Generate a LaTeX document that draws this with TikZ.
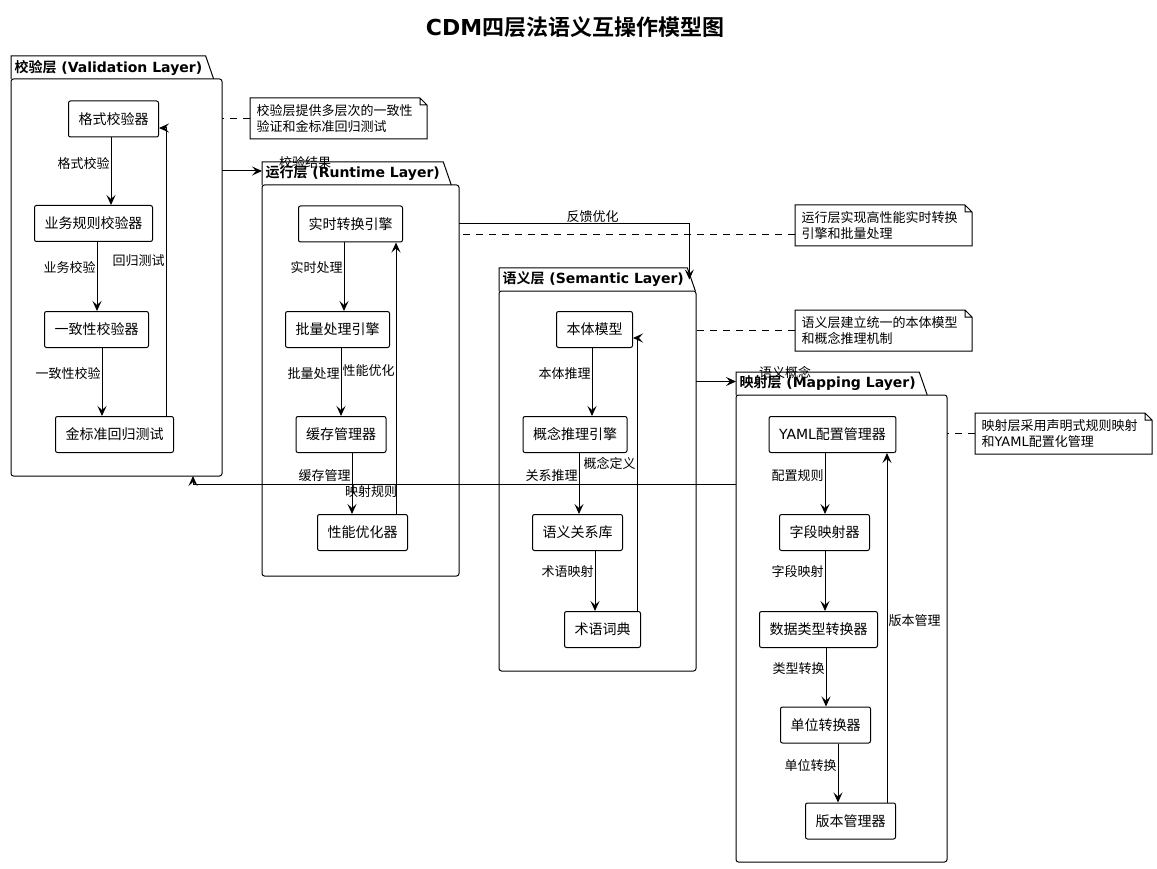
\documentclass[tikz,border=0pt]{standalone}
\usepackage{fontspec}
\setmainfont{DejaVu Sans}
\newfontfamily\cjkfont{Noto Sans CJK SC}[BoldFont={Noto Sans CJK SC Bold}]
\XeTeXinterchartokenstate=1
\newXeTeXintercharclass\cjkclass
\newcount\cjkcode
\cjkcode="4E00
\loop
  \XeTeXcharclass\cjkcode=\cjkclass
  \ifnum\cjkcode<"9FFF \advance\cjkcode by 1
\repeat
\XeTeXinterchartoks 0 \cjkclass = {\begingroup\cjkfont}
\XeTeXinterchartoks 4095 \cjkclass = {\begingroup\cjkfont}
\XeTeXinterchartoks \cjkclass 0 = {\endgroup}
\XeTeXinterchartoks \cjkclass 4095 = {\endgroup}
\usetikzlibrary{positioning, calc, arrows.meta}

\tikzset{
  box/.style={draw, rounded corners=2pt, minimum height=36pt, inner xsep=10pt, font=\fontsize{14}{16}\selectfont},
  lbl/.style={inner sep=1pt, font=\fontsize{13}{15}\selectfont},
  pkg/.style={draw, rounded corners=2.5pt, anchor=north west, outer sep=0pt},
  tab/.style={anchor=south west, inner xsep=3pt, inner ysep=0pt, minimum height=22pt, font=\bfseries\fontsize{14}{16}\selectfont},
  note/.style={anchor=north west, align=left, text width=164pt, inner xsep=6pt, minimum height=40pt, font=\fontsize{13}{16}\selectfont},
  arr/.style={-{Stealth[length=10pt,width=9pt,inset=4pt]}},
  notelink/.style={dash pattern=on 7pt off 6pt}
}

\begin{document}
\begin{tikzpicture}[x=1pt, y=-1pt, line width=1pt]
  \fill[white] (0,0) rectangle (1157,869);
  \useasboundingbox (0,0) rectangle (1157,869);

  \node[font=\bfseries\fontsize{22}{24}\selectfont] (title) at (575,27) {CDM四层法语义互操作模型图};

  \node[pkg, minimum width=211pt, minimum height=397pt] (val) at (11,79) {};
  \node[pkg, minimum width=197pt, minimum height=391pt] (run) at (262,185) {};
  \node[pkg, minimum width=197pt, minimum height=380pt] (sem) at (499,291) {};
  \node[pkg, minimum width=211pt, minimum height=467pt] (map) at (736,395) {};

  \node[tab] (valtab) at (val.north west) {校验层 (Validation Layer)};
  \node[tab] (runtab) at (run.north west) {运行层 (Runtime Layer)};
  \node[tab] (semtab) at (sem.north west) {语义层 (Semantic Layer)};
  \node[tab] (maptab) at (map.north west) {映射层 (Mapping Layer)};
  \foreach \t in {valtab, runtab, semtab, maptab}
    \draw (\t.south west) -- (\t.north west) -- (\t.north east) -- ([xshift=8pt]\t.south east);

  \node[box] (fmt) at (113.5,119) {格式校验器};
  \node[box] (biz) at (93.5,223.5) {业务规则校验器};
  \node[box] (cons) at (96.5,329.5) {一致性校验器};
  \node[box] (gold) at (114.5,434.5) {金标准回归测试};

  \node[box] (rt) at (350.5,224) {实时转换引擎};
  \node[box] (bat) at (337.5,329.5) {批量处理引擎};
  \node[box] (cache) at (341,434.5) {缓存管理器};
  \node[box] (perf) at (362.5,532.5) {性能优化器};

  \node[box] (onto) at (594.5,329.5) {本体模型};
  \node[box] (concept) at (575,434.5) {概念推理引擎};
  \node[box] (rel) at (577.5,532.5) {语义关系库};
  \node[box] (term) at (602.5,629.5) {术语词典};

  \node[box] (yaml) at (832.5,434.5) {YAML配置管理器};
  \node[box] (field) at (824.5,532.5) {字段映射器};
  \node[box] (dtype) at (818.5,629.5) {数据类型转换器};
  \node[box] (unit) at (825.5,725) {单位转换器};
  \node[box] (ver) at (850.5,821) {版本管理器};

  \draw[arr] ([xshift=-2.5pt]fmt.south) -- ([xshift=-2.5pt]fmt.south |- biz.north) node[lbl, pos=0.38, left] {格式校验};
  \draw[arr] ([xshift=3.5pt]biz.south) -- ([xshift=3.5pt]biz.south |- cons.north) node[lbl, pos=0.37, left] {业务校验};
  \draw[arr] ([xshift=5.5pt]cons.south) -- ([xshift=5.5pt]cons.south |- gold.north) node[lbl, pos=0.37, left] {一致性校验};
  \draw[arr] ([xshift=51.5pt]gold.north) |- ([yshift=-9pt]fmt.east) node[lbl, pos=0.27, left] {回归测试};

  \draw[arr] ([xshift=-6.5pt]rt.south) -- ([xshift=-6.5pt]rt.south |- bat.north) node[lbl, pos=0.36, left] {实时处理};
  \draw[arr] ([xshift=3.5pt]bat.south) -- ([xshift=3.5pt]bat.south |- cache.north) node[lbl, pos=0.37, left] {批量处理};
  \draw[arr] ([xshift=11pt]cache.south) -- ([xshift=11pt]cache.south |- perf.north) node[lbl, pos=0.37, left] {缓存管理};
  \draw[arr] ([xshift=33.5pt]perf.north) -- ([xshift=33.5pt]perf.north |- rt.south) node[lbl, pos=0.53, left] {性能优化};

  \draw[arr] ([xshift=-2.5pt]onto.south) -- ([xshift=-2.5pt]onto.south |- concept.north) node[lbl, pos=0.37, left] {本体推理};
  \draw[arr] ([xshift=4pt]concept.south) -- ([xshift=4pt]concept.south |- rel.north) node[lbl, pos=0.37, left] {关系推理};
  \draw[arr] ([xshift=17.5pt]rel.south) -- ([xshift=17.5pt]rel.south |- term.north) node[lbl, pos=0.34, left] {术语映射};
  \draw[arr] ([xshift=34.5pt]term.north) |- ([yshift=-8.5pt]onto.east) node[lbl, pos=0.27, left] {概念定义};

  \draw[arr] ([xshift=-7.5pt]yaml.south) -- ([xshift=-7.5pt]yaml.south |- field.north) node[lbl, pos=0.37, left] {配置规则};
  \draw[arr] ([xshift=0.5pt]field.south) -- ([xshift=0.5pt]field.south |- dtype.north) node[lbl, pos=0.34, left] {字段映射};
  \draw[arr] ([xshift=7.5pt]dtype.south) -- ([xshift=7.5pt]dtype.south |- unit.north) node[lbl, pos=0.35, left] {类型转换};
  \draw[arr] ([xshift=12.5pt]unit.south) -- ([xshift=12.5pt]unit.south |- ver.north) node[lbl, pos=0.37, left] {单位转换};
  \draw[arr] ([xshift=36.5pt]ver.north) -- ([xshift=36.5pt]ver.north |- yaml.south) node[lbl, pos=0.52, right] {版本管理};

  \draw[arr] ([yshift=2.5pt]val.east |- runtab.west) -- ([yshift=2.5pt]runtab.west);
  \node[lbl] (vallbl) at ([xshift=43pt,yshift=11pt]runtab.west) {校验结果};
  \draw[arr] (run.east |- rt.east) -| ([xshift=2pt]semtab.east) node[lbl, pos=0.29, above] {反馈优化};
  \draw[arr] ([yshift=2pt]sem.east |- maptab.west) -- ([yshift=2pt]maptab.west);
  \node[lbl] (semlbl) at ([xshift=49pt,yshift=11pt]maptab.west) {语义概念};
  \draw[arr] ([yshift=144.5pt]map.west) -| ([xshift=76.5pt]val.south) node[lbl, pos=0.336, below] {映射规则};

  \node[note] (n1) at (250,98) {校验层提供多层次的一致性\\验证和金标准回归测试};
  \node[note] (n2) at (795,205) {运行层实现高性能实时转换\\引擎和批量处理};
  \node[note] (n3) at (795,310) {语义层建立统一的本体模型\\和概念推理机制};
  \node[note] (n4) at (975,413) {映射层采用声明式规则映射\\和YAML配置化管理};
  \foreach \n in {n1, n2, n3, n4}
    \draw (\n.north west) -- ([xshift=-7pt]\n.north east) -- ([yshift=-7pt]\n.north east) -- (\n.south east) -- (\n.south west) -- cycle
          ([xshift=-7pt]\n.north east) |- ([yshift=-7pt]\n.north east);

  \draw[notelink] (n1.west) -- (n1.west -| val.east);
  \draw[notelink] ([yshift=-9pt]n2.west) -- ([yshift=-9pt]n2.west -| run.east);
  \draw[notelink] (n3.west) -- (n3.west -| sem.east);
  \draw[notelink] (n4.west) -- (n4.west -| map.east);
\end{tikzpicture}
\end{document}
